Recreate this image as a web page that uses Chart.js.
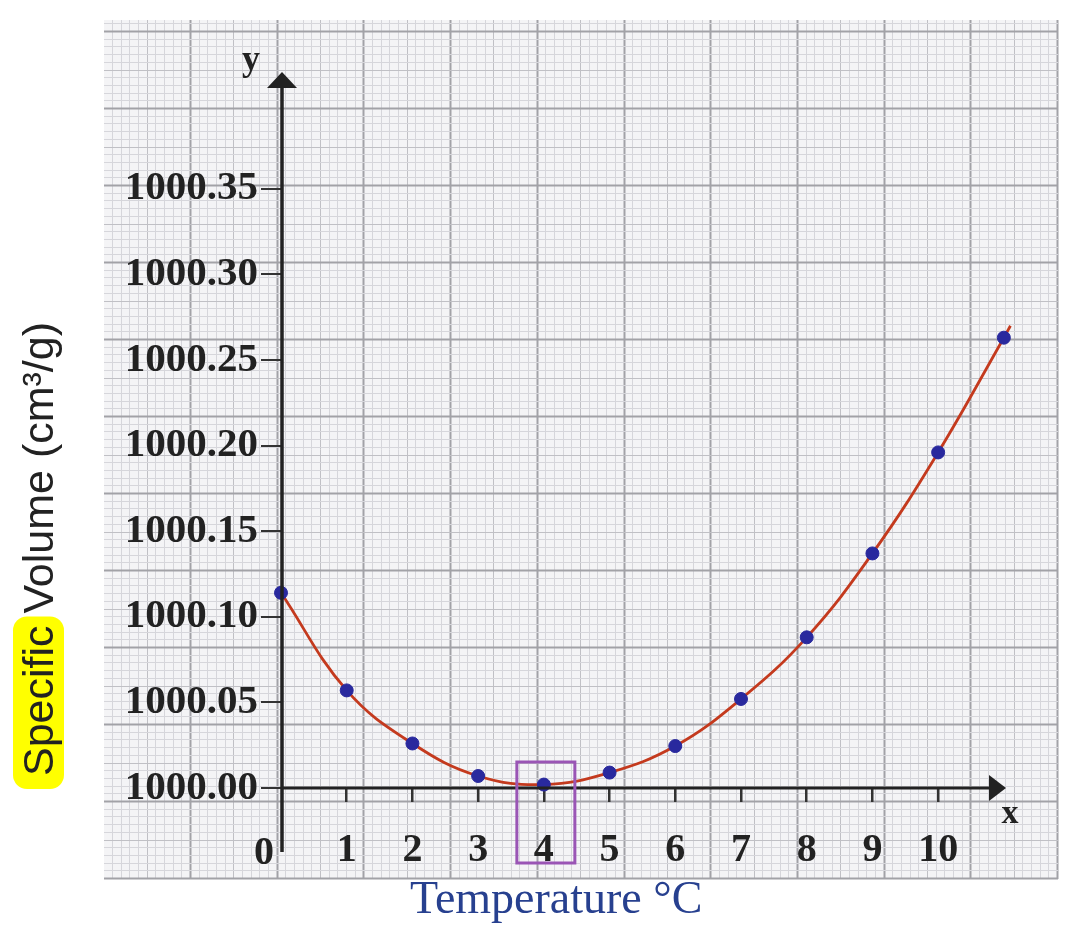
<!DOCTYPE html>
<html>
<head>
<meta charset="utf-8">
<script src="https://cdn.jsdelivr.net/npm/chart.js@4.4.0/dist/chart.umd.min.js"></script>
<style>
html,body{margin:0;padding:0;background:#fff;}
#wrap{width:1081px;height:932px;position:relative;}
</style>
</head>
<body>
<div id="wrap"><canvas id="c" width="1081" height="932"></canvas></div>
<script>
// ---- data ----
const temperatures = [0, 1, 2, 3, 4, 5, 6, 7, 8, 9, 10, 11];
const specificVolumes = [1000.114, 1000.057, 1000.026, 1000.007, 1000.002, 1000.009, 1000.0245, 1000.052, 1000.088, 1000.137, 1000.196, 1000.263];
const curveEndX = [11.1];
const curveEndY = [1000.270];
const xTickValues = [1, 2, 3, 4, 5, 6, 7, 8, 9, 10];
const yTickValues = [1000.00, 1000.05, 1000.10, 1000.15, 1000.20, 1000.25, 1000.30, 1000.35];
const originLabel = '0';
const xAxisName = 'x';
const yAxisName = 'y';
const xTitle = 'Temperature \u00B0C';
const yTitleHighlighted = 'Specific';
const yTitleRest = ' Volume (cm\u00B3/g)';
const highlightedTemperature = 4;

const pointData = temperatures.map((t, i) => ({ x: t, y: specificVolumes[i] }));
const curveData = pointData.concat(curveEndX.map((t, i) => ({ x: t, y: curveEndY[i] })));

const serifBold = (s) => 'bold ' + s + 'px "Liberation Serif", "DejaVu Serif", serif';

// graph paper background
const paperPlugin = {
  id: 'paper',
  beforeDraw(chart) {
    const c = chart.ctx;
    c.save();
    c.fillStyle = '#ffffff';
    c.fillRect(0, 0, chart.width, chart.height);
    const L = 104, R = 1058, T = 20, B = 879;
    c.fillStyle = '#f4f4f6';
    c.fillRect(L, T, R - L, B - T);
    const vx0 = 190, vstep = 86.7 / 10;
    for (let k = -12; k <= 100; k++) {
      const x = vx0 + k * vstep;
      if (x < L || x > R) continue;
      const major = (k % 10 === 0), mid = (k % 5 === 0);
      c.strokeStyle = major ? '#a2a2a7' : (mid ? '#c0c0c5' : '#d6d6db');
      c.lineWidth = major ? 2 : 1;
      c.beginPath();
      c.moveTo(Math.round(x) + 0.5, T);
      c.lineTo(Math.round(x) + 0.5, B);
      c.stroke();
    }
    const hy0 = 31, hstep = 77 / 10;
    for (let k = -2; k <= 120; k++) {
      const y = hy0 + k * hstep;
      if (y < T || y > B) continue;
      const major = (k % 10 === 0), mid = (k % 5 === 0);
      c.strokeStyle = major ? '#a2a2a7' : (mid ? '#c0c0c5' : '#d6d6db');
      c.lineWidth = major ? 2 : 1;
      c.beginPath();
      c.moveTo(L, Math.round(y) + 0.5);
      c.lineTo(R, Math.round(y) + 0.5);
      c.stroke();
    }
    c.restore();
  }
};

// axes with arrows, labels, highlight box, titles
const decorPlugin = {
  id: 'decor',
  afterDraw(chart) {
    const c = chart.ctx;
    const xs = chart.scales.x, ys = chart.scales.y;
    const area = chart.chartArea;
    const x0 = xs.getPixelForValue(0) + 1;
    const y0 = ys.getPixelForValue(1000);
    c.save();
    c.strokeStyle = '#222';
    c.fillStyle = '#222';
    // y axis
    c.lineWidth = 3.5;
    c.beginPath();
    c.moveTo(x0, 852);
    c.lineTo(x0, area.top + 2);
    c.stroke();
    c.beginPath();
    c.moveTo(x0, area.top - 14);
    c.lineTo(x0 - 15, area.top + 2);
    c.lineTo(x0 + 15, area.top + 2);
    c.closePath();
    c.fill();
    // x axis
    c.lineWidth = 3;
    const xEnd = 990;
    c.beginPath();
    c.moveTo(x0, y0);
    c.lineTo(xEnd, y0);
    c.stroke();
    c.beginPath();
    c.moveTo(xEnd + 16, y0);
    c.lineTo(xEnd - 1, y0 - 13);
    c.lineTo(xEnd - 1, y0 + 13);
    c.closePath();
    c.fill();
    // axis names
    c.textAlign = 'center';
    c.textBaseline = 'alphabetic';
    c.font = serifBold(36);
    c.fillText(yAxisName, 251, 70);
    c.font = serifBold(34);
    c.fillText(xAxisName, 1010, 823);
    // origin label
    c.font = serifBold(40);
    c.fillText(originLabel, 264, 864);
    // purple box
    const hx = xs.getPixelForValue(highlightedTemperature);
    c.strokeStyle = '#9a55b5';
    c.lineWidth = 3;
    c.strokeRect(hx - 27, 762, 58, 101);
    // x title
    c.fillStyle = '#27408f';
    c.font = '46px "Liberation Serif", "DejaVu Serif", serif';
    c.textAlign = 'left';
    c.fillText(xTitle, 410, 913);
    // y title (rotated)
    c.translate(53, 776);
    c.rotate(-Math.PI / 2);
    c.font = '43px "Liberation Sans", Arial, sans-serif';
    c.textAlign = 'left';
    const w = c.measureText(yTitleHighlighted).width;
    c.fillStyle = '#ffff00';
    c.beginPath();
    if (c.roundRect) c.roundRect(-13, -40, w + 22, 51, 14); else c.rect(-13, -40, w + 22, 51);
    c.fill();
    c.fillStyle = '#222';
    c.fillText(yTitleHighlighted + yTitleRest, 0, 0);
    c.restore();
  }
};

new Chart(document.getElementById('c').getContext('2d'), {
  type: 'scatter',
  data: {
    datasets: [
      {
        type: 'line',
        data: curveData,
        borderColor: '#c43a1e',
        borderWidth: 2.8,
        pointRadius: 0,
        tension: 0.4,
        fill: false,
        clip: false,
        order: 2
      },
      {
        data: pointData,
        backgroundColor: '#29299e',
        borderColor: '#29299e',
        pointRadius: 6.5,
        clip: false,
        order: 1
      }
    ]
  },
  options: {
    responsive: false,
    animation: false,
    devicePixelRatio: 1,
    layout: { padding: { top: 86, right: 64, bottom: 0, left: 0 } },
    plugins: { legend: { display: false }, tooltip: { enabled: false } },
    scales: {
      x: {
        type: 'linear',
        min: 0,
        max: 11.2,
        border: { display: false },
        grid: { drawOnChartArea: false, drawTicks: true, tickLength: 14, color: '#333', lineWidth: 2.5 },
        afterBuildTicks: (s) => { s.ticks = xTickValues.map(v => ({ value: v })); },
        afterFit: (s) => { s.height = 144; },
        ticks: {
          autoSkip: false, maxRotation: 0, padding: 25, color: '#222',
          font: { family: '"Liberation Serif", "DejaVu Serif", serif', weight: 'bold', size: 40 },
          callback: (v) => String(v)
        }
      },
      y: {
        type: 'linear',
        min: 1000,
        max: 1000.41,
        border: { display: false },
        grid: { drawOnChartArea: false, drawTicks: true, tickLength: 20, color: '#333', lineWidth: 2 },
        afterBuildTicks: (s) => { s.ticks = yTickValues.map(v => ({ value: v })); },
        afterFit: (s) => { s.width = 281; },
        ticks: {
          autoSkip: false, padding: 3, color: '#222',
          font: { family: '"Liberation Serif", "DejaVu Serif", serif', weight: 'bold', size: 41 },
          callback: (v) => Number(v).toFixed(2)
        }
      }
    }
  },
  plugins: [paperPlugin, decorPlugin]
});
</script>
</body>
</html>
